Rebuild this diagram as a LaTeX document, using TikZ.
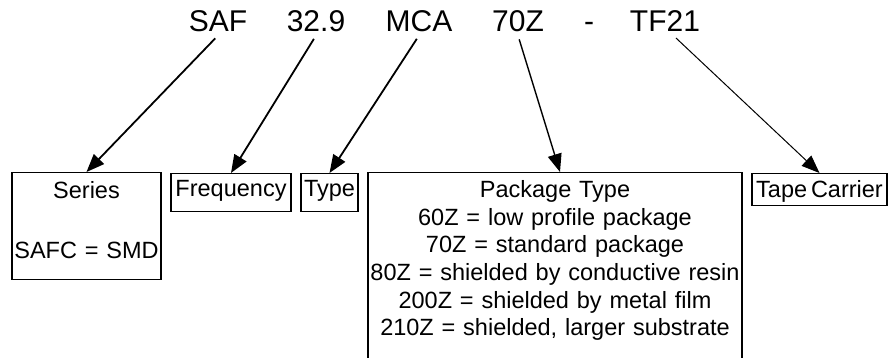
\documentclass[tikz,border=0pt]{standalone}
\usepackage{fontspec}
\setmainfont{Liberation Sans}
\newfontfamily\boxfont{Liberation Sans}[WordSpace=0.6]
\usetikzlibrary{arrows.meta}

\begin{document}
\begin{tikzpicture}[x=1pt,y=-1pt,
  code/.style={anchor=base,inner sep=3pt,font=\fontsize{30}{36}\selectfont},
  field/.style={draw,line width=1.3pt,inner sep=0pt,anchor=north,align=center,
                font=\boxfont\fontsize{23.5}{27.6}\selectfont},
  ptr/.style={-{Triangle[length=18pt,width=14pt]},shorten <=4pt,line width=#1},ptr/.default=1pt]
  \useasboundingbox (0,0) rectangle (891,358);
  % ordering code
  \node[code] (saf) at (218,32) {SAF};
  \node[code] (freqcode) at (316,32) {32.9};
  \node[code] (typecode) at (419,32) {MCA};
  \node[code] (pkgcode) at (518,32) {70Z};
  \node[code] (dash) at (589,32) {-};
  \node[code] (tapecode) at (665,32) {TF21};
  % fields
  \node[field,text width=149pt,text height=26pt,text depth=81pt] (series) at (86.5,172)
    {Series\\[32pt]SAFC = SMD};
  \node[field,minimum width=120pt,text height=23pt,text depth=15pt] (freq) at (231,173) {Frequency};
  \node[field,minimum width=57pt,text height=23pt,text depth=15pt] (type) at (329.5,173) {Type};
  \node[field,text width=374pt,text height=25pt,text depth=170pt] (pkg) at (555,172)
    {Package Type\\60Z = low profile package\\70Z = standard package\\
     80Z = shielded by conductive resin\\200Z = shielded by metal film\\
     210Z = shielded, larger substrate};
  \node[field,minimum width=135pt,text height=24pt,text depth=8pt] (tape) at (819.5,173) {Tape Carrier};
  \foreach \a/\b/\w in {saf/series/1.8pt,freqcode/freq/1.8pt,typecode/type/1.8pt}
    \draw[ptr=\w] (\a.south) -- (\b.north);
  \draw[ptr=1.4pt] (pkgcode.south) -- ([xshift=5pt]pkg.north);
  \draw[ptr] ([xshift=8pt]tapecode.south) -- (tape.north);
\end{tikzpicture}
\end{document}
